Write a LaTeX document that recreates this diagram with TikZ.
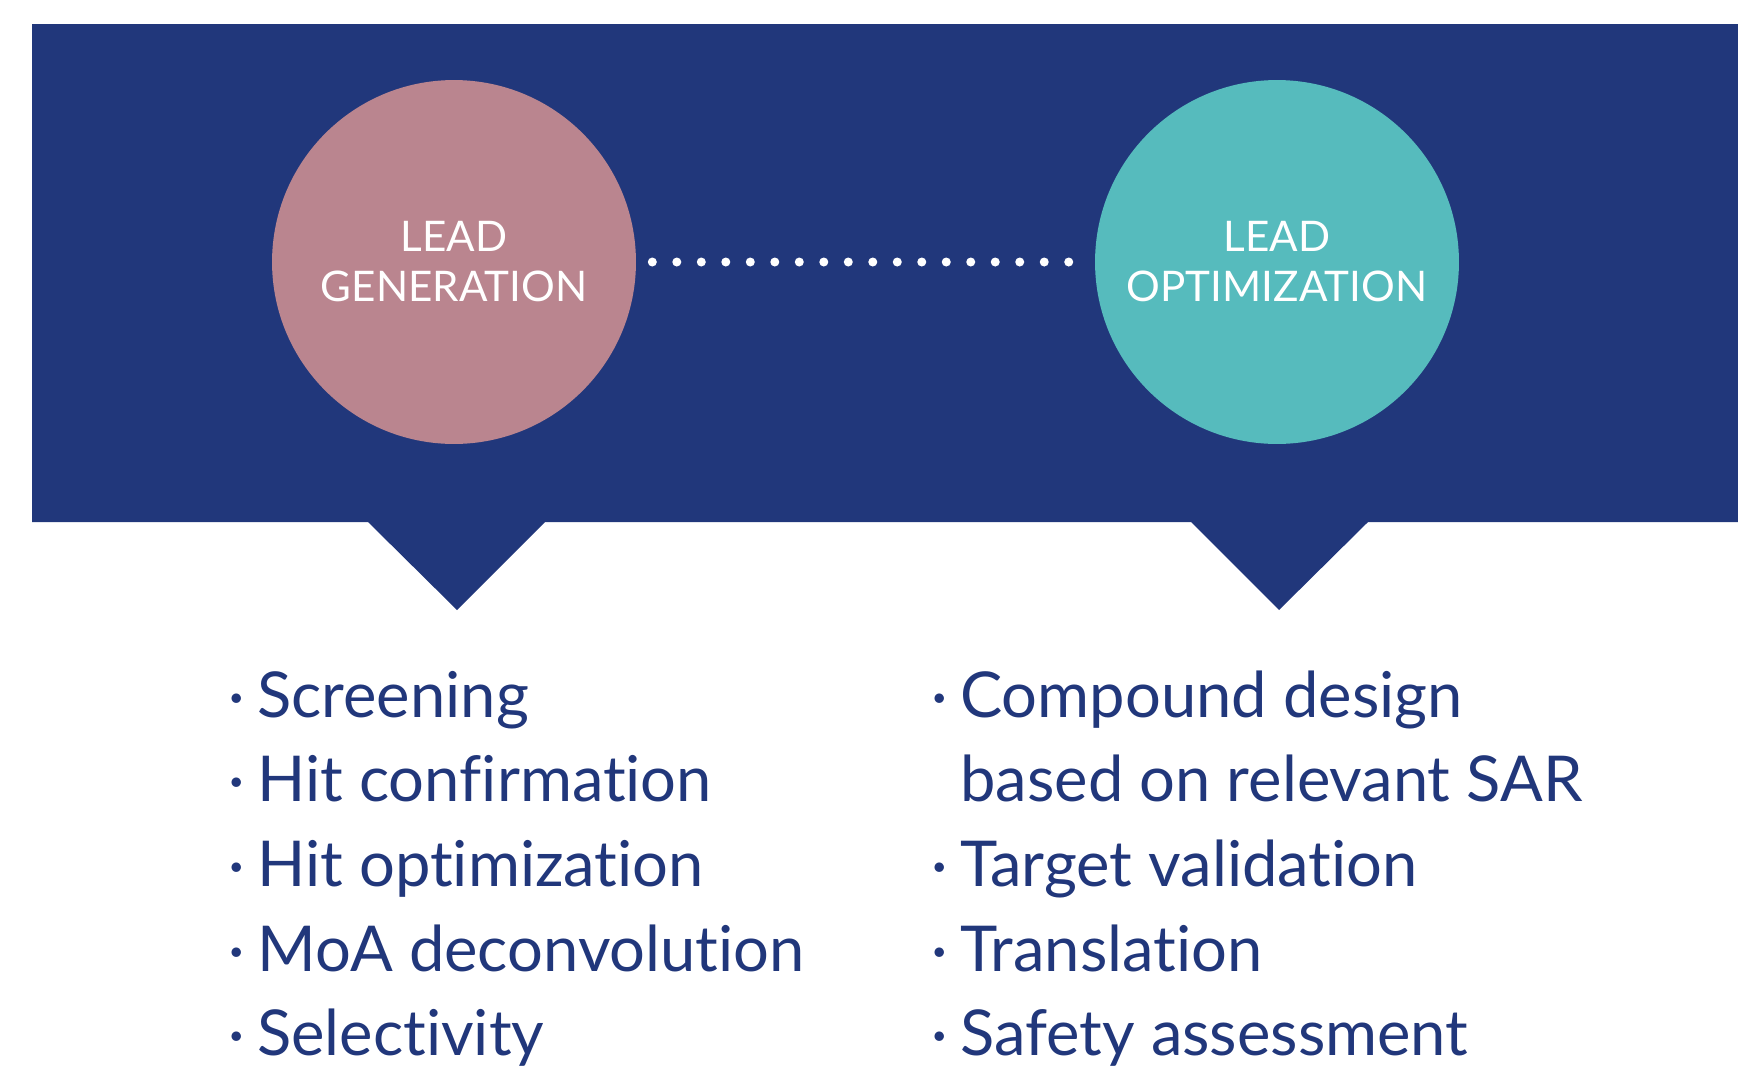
\documentclass[tikz,border=0pt]{standalone}
\usepackage{fontspec}
\setmainfont{Lato}[Ligatures=NoCommon]
\usepackage{tikz}
\usetikzlibrary{calc,positioning}
\definecolor{navy}{HTML}{21377B}
\definecolor{rose}{HTML}{BA858F}
\definecolor{aqua}{HTML}{56BBBD}
\newcommand{\itemdot}{\llap{\textperiodcentered\hspace{0.2em}}}
\tikzset{
  stage/.style={circle, minimum size=7.28cm, inner sep=0pt, text=white, align=center, font=\fontsize{24}{28.5}\selectfont},
  listitem/.style={anchor=base west, inner sep=0pt, text=navy, font=\fontsize{36}{48}\selectfont},
  dotline/.style={white, line width=0.18cm, line cap=round, dash pattern=on 0pt off 0.49cm}
}

\begin{document}
\begin{tikzpicture}[x=0.02cm,y=-0.02cm]
\useasboundingbox (0,0) rectangle (1738,1069);
\fill[navy] (32,24) -- (1738,24) -- (1738,522) -- (1368,522) -- (1279,610) -- (1191,522) -- (545,522) -- (457,610) -- (368,522) -- (32,522) -- cycle;
\node[stage, fill=rose] (gen) at (454,262) {LEAD\\GENERATION};
\node[stage, fill=aqua] (opt) at (1277,262) {LEAD\\OPTIMIZATION};
\draw[dotline, shorten <=0.32cm, shorten >=0.5cm] (gen) -- (opt);
\node[listitem] (scr) at (257,717) {\itemdot Screening};
\node[listitem] (hconf) at (257,801) {\itemdot Hit confirmation};
\node[listitem] (hopt) at (257,886) {\itemdot Hit optimization};
\node[listitem] (moa) at (257,971) {\itemdot MoA deconvolution};
\node[listitem] (sel) at (257,1055) {\itemdot Selectivity};
\node[listitem] (comp) at (960,717) {\itemdot Compound design};
\node[listitem] (sar) at (960,801) {based on relevant SAR};
\node[listitem] (targ) at (960,886) {\itemdot Target validation};
\node[listitem] (trans) at (960,971) {\itemdot Translation};
\node[listitem] (safe) at (960,1055) {\itemdot Safety assessment};
\end{tikzpicture}
\end{document}
